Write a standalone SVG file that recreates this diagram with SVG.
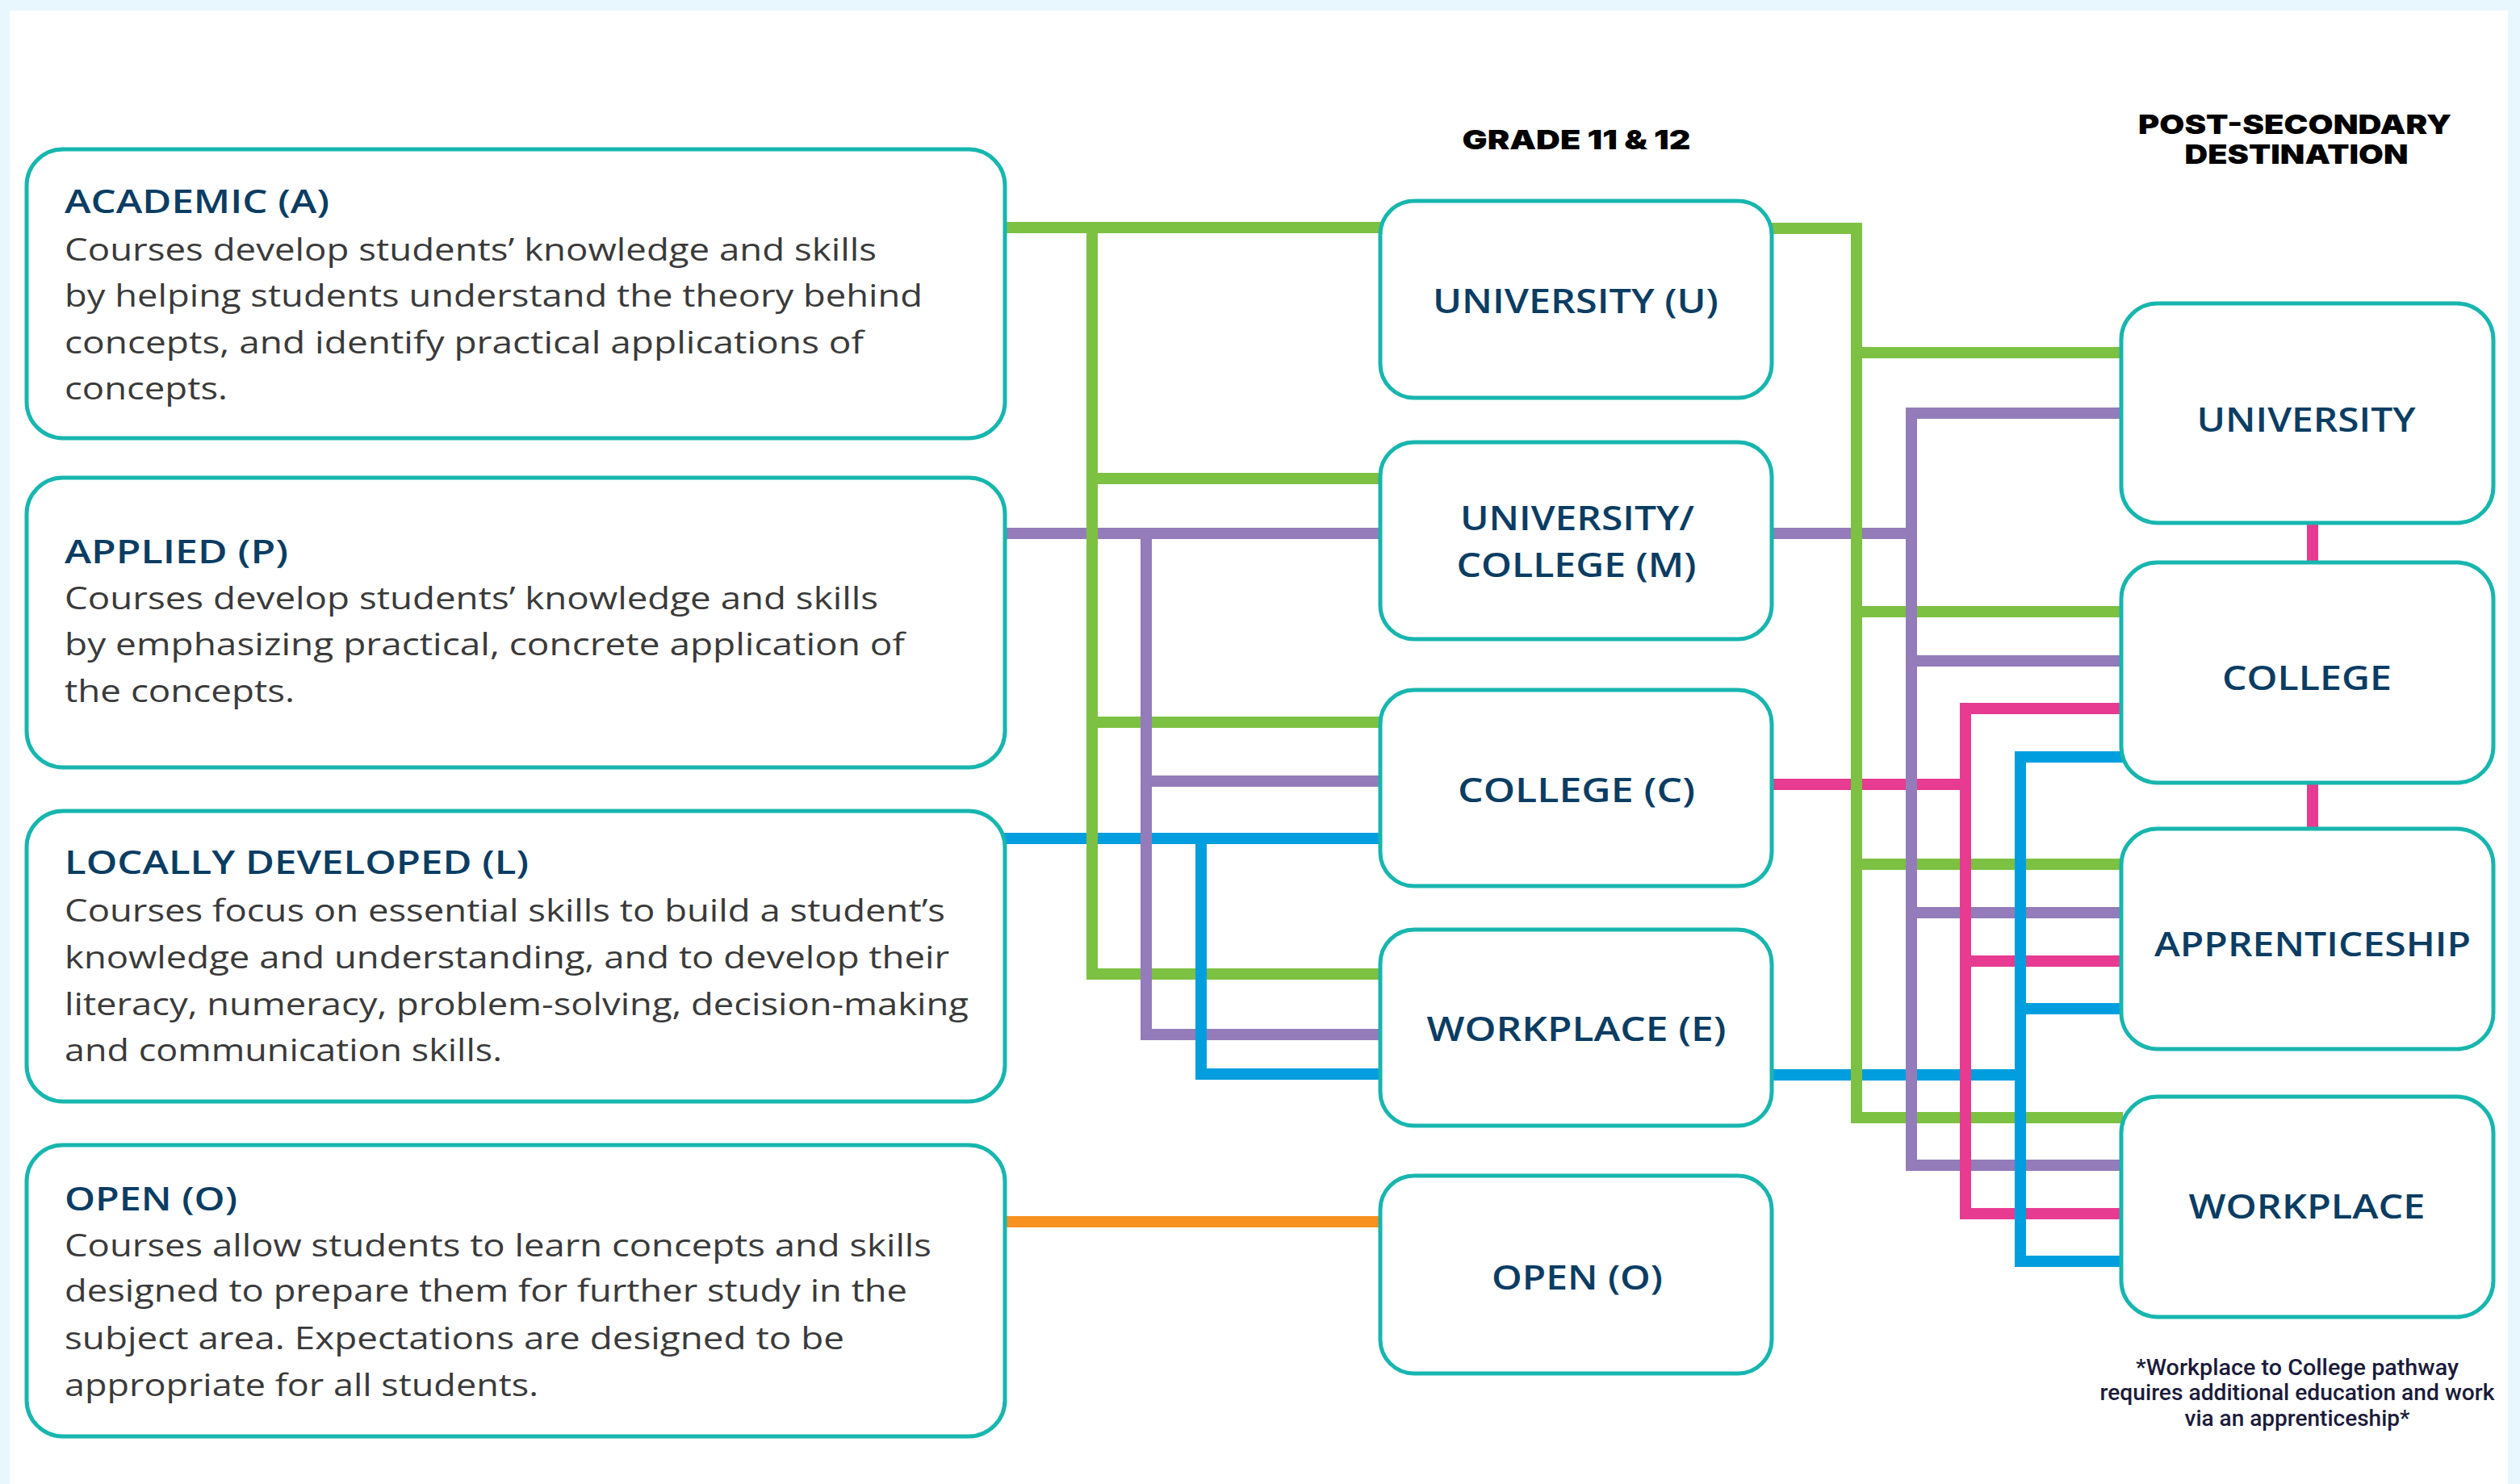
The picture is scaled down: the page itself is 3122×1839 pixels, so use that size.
<svg xmlns="http://www.w3.org/2000/svg" width="3122" height="1839" viewBox="0 0 3122 1839">
<style>
.box{fill:#ffffff;stroke:#17b6ae;stroke-width:5}
.ttl{font-family:"Open Sans","Noto Sans",sans-serif;font-weight:600;font-size:39px;fill:#0b3d63}
.body{font-family:"Open Sans","Noto Sans",sans-serif;font-weight:400;font-size:39px;fill:#3a3a3a}
.lbl{font-family:"Open Sans","Noto Sans",sans-serif;font-weight:600;font-size:41px;fill:#0b3d63;text-anchor:middle}
.hdr{font-family:Inter,"DejaVu Sans",sans-serif;font-weight:900;font-size:33px;fill:#000000;text-anchor:middle}
.note{font-family:Roboto,"Liberation Sans",sans-serif;font-weight:500;font-size:28px;fill:#1b1b3a;text-anchor:middle}
.g{stroke:#7cc142}
.p{stroke:#937cb9}
.b{stroke:#009ede}
.k{stroke:#e73b91}
.o{stroke:#f7911f}
#connectors path{fill:none;stroke-width:14;stroke-linecap:butt}
</style>
<rect x="0" y="0" width="3122" height="1839" fill="#e8f7fd"/>
<rect x="12" y="13" width="3095" height="1826" fill="#ffffff"/>

<g id="connectors">
  <!-- horizontals (left) -->
  <path class="g" d="M1240,282 H1712"/>
  <path class="g" d="M1346,593 H1712"/>
  <path class="g" d="M1346,895 H1712"/>
  <path class="g" d="M1346,1207 H1712"/>
  <path class="p" d="M1240,661 H1712"/>
  <path class="p" d="M1413,968 H1712"/>
  <path class="p" d="M1413,1282 H1712"/>
  <path class="b" d="M1240,1039 H1712"/>
  <path class="b" d="M1481,1331 H1712"/>
  <path class="o" d="M1240,1514 H1712"/>
  <!-- horizontals (right) -->
  <path class="g" d="M2190,283 H2307"/>
  <path class="g" d="M2293,437 H2630"/>
  <path class="g" d="M2293,758 H2630"/>
  <path class="g" d="M2293,1071 H2630"/>
  <path class="g" d="M2293,1385 H2630"/>
  <path class="p" d="M2190,661 H2375"/>
  <path class="p" d="M2361,512 H2630"/>
  <path class="p" d="M2361,819 H2630"/>
  <path class="p" d="M2361,1131 H2630"/>
  <path class="p" d="M2361,1444 H2630"/>
  <path class="k" d="M2190,972 H2442"/>
  <path class="k" d="M2428,878 H2630"/>
  <path class="k" d="M2428,1191 H2630"/>
  <path class="k" d="M2428,1504 H2630"/>
  <path class="b" d="M2190,1332 H2510"/>
  <path class="b" d="M2496,938 H2630"/>
  <path class="b" d="M2496,1250 H2630"/>
  <path class="b" d="M2496,1563 H2630"/>
  <!-- verticals (left) -->
  <path class="g" d="M1353,282 V1214"/>
  <path class="p" d="M1420,661 V1289"/>
  <path class="b" d="M1488,1039 V1338"/>
  <!-- verticals (right) -->
  <path class="g" d="M2300,276 V1392"/>
  <path class="p" d="M2368,505 V1451"/>
  <path class="k" d="M2435,871 V1511"/>
  <path class="b" d="M2503,931 V1570"/>
  <path class="k" d="M2865,645 V699"/>
  <path class="k" d="M2865,968 V1029"/>
</g>

<g id="node-academic">
  <rect class="box" x="33" y="185" width="1212" height="358" rx="45"/>
  <text class="ttl" x="80" y="264" textLength="328" lengthAdjust="spacingAndGlyphs">ACADEMIC (A)</text>
  <text class="body" x="80" y="323" textLength="1006" lengthAdjust="spacingAndGlyphs">Courses develop students’ knowledge and skills</text>
  <text class="body" x="80" y="380" textLength="1063" lengthAdjust="spacingAndGlyphs">by helping students understand the theory behind</text>
  <text class="body" x="80" y="438" textLength="990" lengthAdjust="spacingAndGlyphs">concepts, and identify practical applications of</text>
  <text class="body" x="80" y="495" textLength="202" lengthAdjust="spacingAndGlyphs">concepts.</text>
</g>
<g id="node-applied">
  <rect class="box" x="33" y="592" width="1212" height="359" rx="45"/>
  <text class="ttl" x="80" y="698" textLength="277" lengthAdjust="spacingAndGlyphs">APPLIED (P)</text>
  <text class="body" x="80" y="755" textLength="1008" lengthAdjust="spacingAndGlyphs">Courses develop students’ knowledge and skills</text>
  <text class="body" x="80" y="812" textLength="1041" lengthAdjust="spacingAndGlyphs">by emphasizing practical, concrete application of</text>
  <text class="body" x="80" y="870" textLength="285" lengthAdjust="spacingAndGlyphs">the concepts.</text>
</g>
<g id="node-locally">
  <rect class="box" x="33" y="1005" width="1212" height="360" rx="45"/>
  <text class="ttl" x="80" y="1083" textLength="575" lengthAdjust="spacingAndGlyphs">LOCALLY DEVELOPED (L)</text>
  <text class="body" x="80" y="1142" textLength="1091" lengthAdjust="spacingAndGlyphs">Courses focus on essential skills to build a student’s</text>
  <text class="body" x="80" y="1200" textLength="1096" lengthAdjust="spacingAndGlyphs">knowledge and understanding, and to develop their</text>
  <text class="body" x="80" y="1258" textLength="1120" lengthAdjust="spacingAndGlyphs">literacy, numeracy, problem-solving, decision-making</text>
  <text class="body" x="80" y="1315" textLength="542" lengthAdjust="spacingAndGlyphs">and communication skills.</text>
</g>
<g id="node-open-desc">
  <rect class="box" x="33" y="1419" width="1212" height="361" rx="45"/>
  <text class="ttl" x="80" y="1500" textLength="214" lengthAdjust="spacingAndGlyphs">OPEN (O)</text>
  <text class="body" x="80" y="1557" textLength="1074" lengthAdjust="spacingAndGlyphs">Courses allow students to learn concepts and skills</text>
  <text class="body" x="80" y="1613" textLength="1044" lengthAdjust="spacingAndGlyphs">designed to prepare them for further study in the</text>
  <text class="body" x="80" y="1672" textLength="966" lengthAdjust="spacingAndGlyphs">subject area. Expectations are designed to be</text>
  <text class="body" x="80" y="1730" textLength="587" lengthAdjust="spacingAndGlyphs">appropriate for all students.</text>
</g>

<g id="header-grade">
  <text class="hdr" x="1953" y="185" textLength="283" lengthAdjust="spacingAndGlyphs">GRADE 11 &amp; 12</text>
</g>
<g id="node-u">
  <rect class="box" x="1710" y="249" width="485" height="244" rx="42"/>
  <text class="lbl" x="1952" y="388" textLength="354" lengthAdjust="spacingAndGlyphs">UNIVERSITY (U)</text>
</g>
<g id="node-m">
  <rect class="box" x="1710" y="548" width="485" height="244" rx="42"/>
  <text class="lbl" x="1954" y="657" textLength="290" lengthAdjust="spacingAndGlyphs">UNIVERSITY/</text>
  <text class="lbl" x="1953" y="715" textLength="297" lengthAdjust="spacingAndGlyphs">COLLEGE (M)</text>
</g>
<g id="node-c">
  <rect class="box" x="1710" y="855" width="485" height="243" rx="42"/>
  <text class="lbl" x="1953" y="994" textLength="294" lengthAdjust="spacingAndGlyphs">COLLEGE (C)</text>
</g>
<g id="node-e">
  <rect class="box" x="1710" y="1152" width="485" height="243" rx="42"/>
  <text class="lbl" x="1953" y="1290" textLength="371" lengthAdjust="spacingAndGlyphs">WORKPLACE (E)</text>
</g>
<g id="node-o">
  <rect class="box" x="1710" y="1457" width="485" height="245" rx="42"/>
  <text class="lbl" x="1954" y="1598" textLength="212" lengthAdjust="spacingAndGlyphs">OPEN (O)</text>
</g>

<g id="header-post">
  <text class="hdr" x="2843" y="166" textLength="388" lengthAdjust="spacingAndGlyphs">POST-SECONDARY</text>
  <text class="hdr" x="2845" y="203" textLength="277" lengthAdjust="spacingAndGlyphs">DESTINATION</text>
</g>
<g id="dest-university">
  <rect class="box" x="2628" y="376" width="461" height="272" rx="45"/>
  <text class="lbl" x="2857" y="535" textLength="271" lengthAdjust="spacingAndGlyphs">UNIVERSITY</text>
</g>
<g id="dest-college">
  <rect class="box" x="2628" y="697" width="461" height="273" rx="45"/>
  <text class="lbl" x="2858" y="855" textLength="210" lengthAdjust="spacingAndGlyphs">COLLEGE</text>
</g>
<g id="dest-apprenticeship">
  <rect class="box" x="2628" y="1027" width="461" height="273" rx="45"/>
  <text class="lbl" x="2865" y="1185" textLength="392" lengthAdjust="spacingAndGlyphs">APPRENTICESHIP</text>
</g>
<g id="dest-workplace">
  <rect class="box" x="2628" y="1359" width="461" height="273" rx="45"/>
  <text class="lbl" x="2858" y="1510" textLength="293" lengthAdjust="spacingAndGlyphs">WORKPLACE</text>
</g>

<g id="footnote">
  <text class="note" x="2846" y="1704" textLength="400" lengthAdjust="spacingAndGlyphs">*Workplace to College pathway</text>
  <text class="note" x="2846" y="1735" textLength="489" lengthAdjust="spacingAndGlyphs">requires additional education and work</text>
  <text class="note" x="2846" y="1767" textLength="279" lengthAdjust="spacingAndGlyphs">via an apprenticeship*</text>
</g>
</svg>
